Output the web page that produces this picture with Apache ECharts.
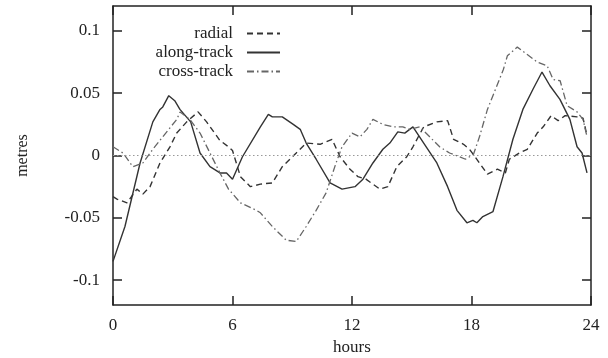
<!DOCTYPE html>
<html>
<head>
<meta charset="utf-8">
<script src="https://cdn.jsdelivr.net/npm/echarts@6/dist/echarts.min.js"></script>
<style>
  html, body { margin: 0; padding: 0; background: #fff; }
  #chart { width: 608px; height: 358px; }
</style>
</head>
<body>
<div id="chart"></div>
<script>
const seriesNames = ['radial', 'along-track', 'cross-track'];
const xTicks = [0, 6, 12, 18, 24];
const yTicks = [-0.1, -0.05, 0, 0.05, 0.1];

const radialHours = [0, 0.2, 0.7, 1.2, 1.5, 1.86, 2.36, 2.86, 3.2, 3.7, 4.27, 4.7, 5.37, 5.8, 6.0, 6.4, 6.9, 7.4, 8.0, 8.5, 9.2, 9.7, 10.4, 11.0, 11.4, 11.9, 12.3, 12.7, 13.4, 13.8, 14.25, 14.75, 15.06, 15.6, 16.26, 16.8, 17.1, 17.6, 17.9, 18.4, 18.8, 19.3, 19.7, 19.9, 20.4, 20.8, 21.3, 21.6, 22.0, 22.35, 22.7, 23.3, 23.6, 23.8];
const radialValues = [-0.033, -0.035, -0.038, -0.027, -0.031, -0.025, -0.006, 0.007, 0.018, 0.027, 0.035, 0.027, 0.012, 0.007, 0.004, -0.017, -0.025, -0.023, -0.022, -0.009, 0.002, 0.010, 0.009, 0.013, -0.001, -0.011, -0.017, -0.019, -0.027, -0.025, -0.009, -0.001, 0.007, 0.023, 0.027, 0.028, 0.013, 0.009, 0.005, -0.006, -0.015, -0.011, -0.014, -0.003, 0.002, 0.005, 0.018, 0.023, 0.032, 0.028, 0.032, 0.031, 0.030, 0.016];

const alongHours = [0, 0.6, 1.36, 2.0, 2.36, 2.5, 2.8, 3.1, 3.36, 3.9, 4.37, 4.87, 5.37, 5.7, 6.0, 6.5, 7.4, 7.8, 8.0, 8.5, 9.05, 9.4, 9.7, 10.2, 10.9, 11.5, 12.15, 12.55, 13.05, 13.55, 13.9, 14.3, 14.65, 15.06, 15.6, 16.26, 16.8, 17.27, 17.77, 18.07, 18.27, 18.57, 19.08, 19.58, 20.08, 20.58, 21.08, 21.54, 21.94, 22.44, 22.94, 23.3, 23.55, 23.8];
const alongValues = [-0.085, -0.057, -0.006, 0.027, 0.037, 0.039, 0.048, 0.044, 0.037, 0.027, 0.002, -0.009, -0.014, -0.014, -0.019, -0.001, 0.023, 0.033, 0.031, 0.031, 0.025, 0.021, 0.010, -0.003, -0.022, -0.027, -0.025, -0.019, -0.006, 0.005, 0.010, 0.019, 0.018, 0.023, 0.010, -0.006, -0.025, -0.044, -0.054, -0.052, -0.054, -0.049, -0.045, -0.017, 0.013, 0.037, 0.053, 0.067, 0.056, 0.045, 0.029, 0.007, 0.002, -0.014];

const crossHours = [0, 0.5, 1.0, 1.5, 2.0, 2.5, 3.2, 3.37, 3.86, 4.37, 4.87, 5.37, 5.8, 6.4, 7.2, 7.4, 8.0, 8.7, 9.2, 9.7, 10.2, 10.7, 11.2, 11.5, 12.0, 12.4, 12.75, 13.05, 13.55, 14.05, 14.55, 14.9, 15.4, 15.9, 16.4, 16.9, 17.4, 17.7, 18.1, 18.4, 18.8, 19.2, 19.6, 19.8, 20.3, 20.8, 21.3, 21.8, 22.1, 22.45, 22.8, 23.3, 23.6, 23.8];
const crossValues = [0.007, 0.002, -0.009, -0.006, 0.005, 0.015, 0.029, 0.035, 0.029, 0.018, 0.002, -0.014, -0.027, -0.038, -0.044, -0.046, -0.057, -0.068, -0.069, -0.057, -0.044, -0.030, -0.006, 0.007, 0.018, 0.015, 0.021, 0.029, 0.025, 0.023, 0.023, 0.021, 0.023, 0.015, 0.007, 0.002, -0.001, -0.003, 0.001, 0.015, 0.037, 0.053, 0.069, 0.080, 0.087, 0.081, 0.075, 0.072, 0.061, 0.060, 0.040, 0.035, 0.029, 0.015];

const zip = (xs, ys) => xs.map((x, i) => [x, ys[i]]);

const font = 'Liberation Serif';
const ink = '#222';
const frame = { show: true, onZero: false, lineStyle: { color: ink, width: 1.5 } };
const ticksIn = { show: true, inside: true, length: 9, lineStyle: { color: ink, width: 1.5 } };

const chart = echarts.init(document.getElementById('chart'));

chart.setOption({
  animation: false,
  backgroundColor: '#fff',
  textStyle: { fontFamily: font, color: ink },
  grid: { left: 113, right: 17, top: 6, bottom: 53, outerBoundsMode: 'none' },
  legend: {
    orient: 'vertical',
    align: 'right',
    right: 322,
    top: 20,
    itemGap: 2,
    itemWidth: 33,
    itemHeight: 14,
    data: seriesNames,
    itemStyle: { opacity: 0 },
    textStyle: { fontFamily: font, fontSize: 17, color: ink, padding: [0, 9, 0, 0] }
  },
  xAxis: [
    {
      type: 'value', min: 0, max: 24, interval: 6, position: 'bottom',
      name: 'hours', nameLocation: 'middle', nameGap: 33,
      nameTextStyle: { fontFamily: font, fontSize: 17, color: ink },
      axisLine: frame, axisTick: ticksIn, splitLine: { show: false },
      axisLabel: { fontFamily: font, fontSize: 17, color: ink, margin: 12,
        customValues: xTicks }
    },
    {
      type: 'value', min: 0, max: 24, interval: 6, position: 'top',
      axisLine: frame, axisTick: ticksIn, splitLine: { show: false },
      axisLabel: { show: false }
    }
  ],
  yAxis: [
    {
      type: 'value', min: -0.12, max: 0.12, position: 'left',
      name: 'metres', nameLocation: 'middle', nameGap: 82, nameRotate: 90,
      nameTextStyle: { fontFamily: font, fontSize: 16, color: ink },
      axisLine: frame, splitLine: { show: false },
      axisTick: Object.assign({ customValues: yTicks }, ticksIn),
      axisLabel: { fontFamily: font, fontSize: 17, color: ink, margin: 13,
        customValues: yTicks, formatter: v => String(Math.round(v * 100) / 100) }
    },
    {
      type: 'value', min: -0.12, max: 0.12, position: 'right',
      axisLine: frame, splitLine: { show: false },
      axisTick: Object.assign({ customValues: yTicks }, ticksIn),
      axisLabel: { show: false }
    }
  ],
  series: [
    {
      name: 'radial', type: 'line', data: zip(radialHours, radialValues),
      symbol: 'none', color: '#333',
      lineStyle: { color: '#333', width: 1.4, type: [6, 4] },
      markLine: {
        silent: true, symbol: 'none', label: { show: false },
        lineStyle: { color: '#999', width: 1, type: [1.5, 2.5] },
        data: [{ yAxis: 0 }]
      }
    },
    {
      name: 'along-track', type: 'line', data: zip(alongHours, alongValues),
      symbol: 'none', color: '#333',
      lineStyle: { color: '#333', width: 1.4, type: 'solid' }
    },
    {
      name: 'cross-track', type: 'line', data: zip(crossHours, crossValues),
      symbol: 'none', color: '#666',
      lineStyle: { color: '#666', width: 1.3, type: [7, 3, 1.5, 3] }
    }
  ]
});
</script>
</body>
</html>
